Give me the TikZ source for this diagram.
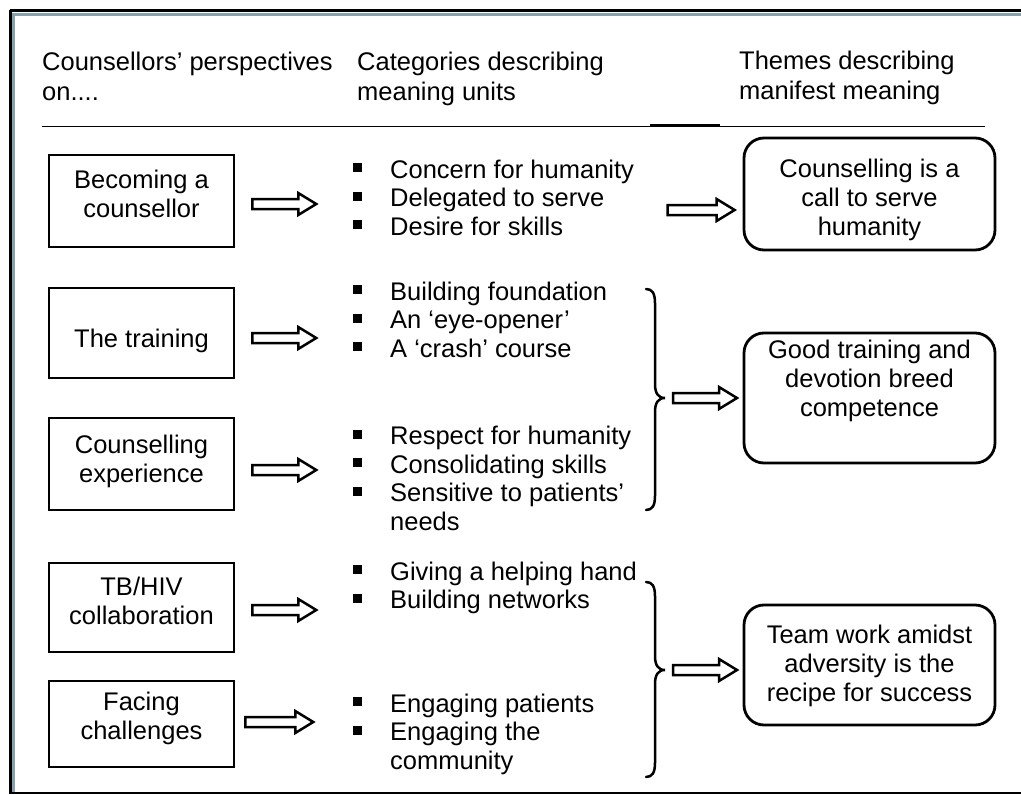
\documentclass[tikz,border=0pt]{standalone}
\usepackage{fontspec}
\setmainfont{Liberation Sans}
\usetikzlibrary{calc}
\definecolor{frameblue}{RGB}{135,162,174}
\newcommand\blt{\makebox[37pt][l]{\rule[6pt]{9pt}{9pt}}}
\newcommand\blockarrow[2]{%
  \draw[blockarrow, shift={#1}] (0,-5) -- (#2-18,-5) -- (#2-18,-11) -- (#2,0) -- (#2-18,11) -- (#2-18,5) -- (0,5) -- cycle;}
\begin{document}
\begin{tikzpicture}[x=1pt,y=-1pt,
  lbox/.style={draw, line width=2.5pt, minimum width=185pt, inner sep=0pt},
  rbox/.style={draw, line width=2.8pt, rounded corners=20pt, minimum width=251pt, inner sep=0pt},
  txt/.style={inner sep=0pt, align=center, font=\fontsize{25.5}{29}\selectfont, anchor=base},
  bul/.style={inner sep=0pt, align=left, font=\fontsize{25.5}{28.5}\selectfont, anchor=base west},
  hdr/.style={inner sep=0pt, align=left, font=\fontsize{25.5}{30}\selectfont, anchor=base west},
  blockarrow/.style={draw, line width=2.5pt, fill=white},
  brace/.style={draw, line width=2.5pt, line cap=round}]
\useasboundingbox (0,0) rectangle (1021,795);
% frame
\draw[line width=2.5pt] (9.5,10.7) -- (1021,10.7);
\draw[frameblue, line width=3.5pt] (12,14.5) -- (1021,14.5);
\draw[line width=2.5pt] (10.7,9.5) -- (10.7,794);
\draw[frameblue, line width=2.5pt] (13.6,13) -- (13.6,792);
\draw[line width=2.5pt] (9.5,793) -- (1021,793);
% headers (anchor = baseline of last line)
\node[hdr] (h1) at (42,100) {Counsellors’ perspectives\\on....};
\node[hdr] (h2) at (357,100) {Categories describing\\meaning units};
\node[hdr] (h3) at (739,99) {Themes describing\\manifest meaning};
\draw[line width=1.5pt] (42,126.5) -- (985,126.5);
\draw[line width=2pt] (650,125) -- (720,125);
% left boxes
\node[lbox, minimum height=92pt] (L1) at (141.5,201) {};
\node[txt] (L1t) at (141.5,217) {Becoming a\\counsellor};
\node[lbox, minimum height=90pt] (L2) at (141.5,333) {};
\node[txt] (L2t) at (141.5,347) {The training};
\node[lbox, minimum height=92pt] (L3) at (141.5,464) {};
\node[txt] (L3t) at (141.5,482) {Counselling\\experience};
\node[lbox, minimum height=89pt] (L4) at (141.5,607.5) {};
\node[txt] (L4t) at (141.5,624) {TB/HIV\\collaboration};
\node[lbox, minimum height=86pt] (L5) at (141.5,724) {};
\node[txt] (L5t) at (141.5,739) {Facing\\challenges};
% bullet lists
\node[bul] (B1) at (353,235) {\blt Concern for humanity\\\blt Delegated to serve\\\blt Desire for skills};
\node[bul] (B2) at (353,357) {\blt Building foundation\\\blt An ‘eye-opener’\\\blt A ‘crash’ course};
\node[bul] (B3) at (353,530) {\blt Respect for humanity\\\blt Consolidating skills\\\blt Sensitive to patients’\\\makebox[37pt]{}needs};
\node[bul] (B4) at (353,608.5) {\blt Giving a helping hand\\\blt Building networks};
\node[bul] (B5) at (353,769) {\blt Engaging patients\\\blt Engaging the\\\makebox[37pt]{}community};
% right boxes
\node[rbox, minimum height=112pt] (R1) at (869.5,194) {};
\node[txt] (R1t) at (869.5,235) {Counselling is a\\call to serve\\humanity};
\node[rbox, minimum height=130pt] (R2) at (869.5,398) {};
\node[txt] (R2t) at (869.5,416) {Good training and\\devotion breed\\competence};
\node[rbox, minimum height=120pt] (R3) at (869.5,665) {};
\node[txt] (R3t) at (869.5,701) {Team work amidst\\adversity is the\\recipe for success};
% braces
\coordinate (br1) at (665,398);
\coordinate (br2) at (665,670);
\draw[brace] (646,289) .. controls (652,289) and (655,293) .. (655,303) -- (655,384) .. controls (655,393) and (658,398) .. (br1) .. controls (658,398) and (655,403) .. (655,412) -- (655,496) .. controls (655,506) and (652,510) .. (646,510);
\draw[brace] (646,582) .. controls (652,582) and (655,586) .. (655,596) -- (655,656) .. controls (655,665) and (658,670) .. (br2) .. controls (658,670) and (655,675) .. (655,684) -- (655,763) .. controls (655,773) and (652,777) .. (646,777);
% arrows
\blockarrow{($(L1.east)+(17,3)$)}{64}
\blockarrow{($(L2.east)+(17,5)$)}{64}
\blockarrow{($(L3.east)+(17,6)$)}{64}
\blockarrow{($(L4.east)+(17,2.5)$)}{64}
\blockarrow{($(L5.east)+(10,-2)$)}{68}
\blockarrow{($(R1.west)+(-75,16)$)}{67}
\blockarrow{($(br1)+(8,0)$)}{64}
\blockarrow{($(br2)+(8,0)$)}{64}
\end{tikzpicture}
\end{document}
